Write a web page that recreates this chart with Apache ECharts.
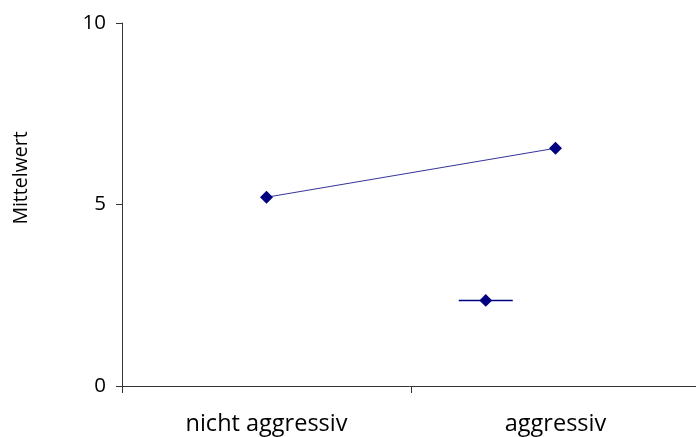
<!DOCTYPE html>
<html>
<head>
<meta charset="utf-8">
<script src="https://cdn.jsdelivr.net/npm/echarts@6/dist/echarts.min.js"></script>
<style>
  html, body { margin: 0; padding: 0; background: #fff; }
  #chart { width: 696px; height: 437px; }
</style>
</head>
<body>
<div id="chart"></div>
<script>
// Mean score per group
const categories = ['nicht aggressiv', 'aggressiv'];
const meanValues = [5.2, 6.55];
const seriesName = ' ';
const yTicks = { min: 0, max: 10, interval: 5 };
const yTitle = 'Mittelwert';

const navy = '#000080';
const font = '"Open Sans", "Noto Sans", sans-serif';

const chart = echarts.init(document.getElementById('chart'), null, { renderer: 'canvas' });
chart.setOption({
  animation: false,
  backgroundColor: '#ffffff',
  // plot runs slightly past the right edge of the canvas
  grid: {
    left: 122, width: 578, top: 23, height: 363,
    containLabel: false,
    outerBoundsMode: 'none'
  },
  legend: {
    data: [seriesName],
    left: 453,
    top: 289,
    itemWidth: 54,
    itemHeight: 16,
    itemGap: 0,
    textStyle: { fontSize: 1, color: 'transparent' },
    lineStyle: { width: 1.5, color: navy },
    itemStyle: { color: navy }
  },
  graphic: [{
    type: 'text',
    x: 21,
    y: 178,
    rotation: Math.PI / 2,
    style: {
      text: yTitle,
      fill: '#000',
      font: '19.5px ' + font,
      textAlign: 'center',
      textVerticalAlign: 'middle'
    }
  }],
  xAxis: {
    type: 'category',
    data: categories,
    boundaryGap: true,
    axisLine: { lineStyle: { color: '#333', width: 1 } },
    axisTick: { show: true, length: 7, lineStyle: { color: '#333' } },
    axisLabel: { color: '#000', fontFamily: font, fontSize: 23.5, margin: 26 }
  },
  yAxis: {
    type: 'value',
    min: yTicks.min,
    max: yTicks.max,
    interval: yTicks.interval,
    axisLine: { show: true, lineStyle: { color: '#333', width: 1 } },
    axisTick: { show: true, length: 6, lineStyle: { color: '#333' } },
    splitLine: { show: false },
    axisLabel: { color: '#000', fontFamily: font, fontSize: 20.5, margin: 16 }
  },
  series: [{
    name: seriesName,
    type: 'line',
    data: meanValues,
    symbol: 'diamond',
    symbolSize: 13,
    lineStyle: { color: navy, width: 0.8 },
    itemStyle: { color: navy }
  }]
});
</script>
</body>
</html>
